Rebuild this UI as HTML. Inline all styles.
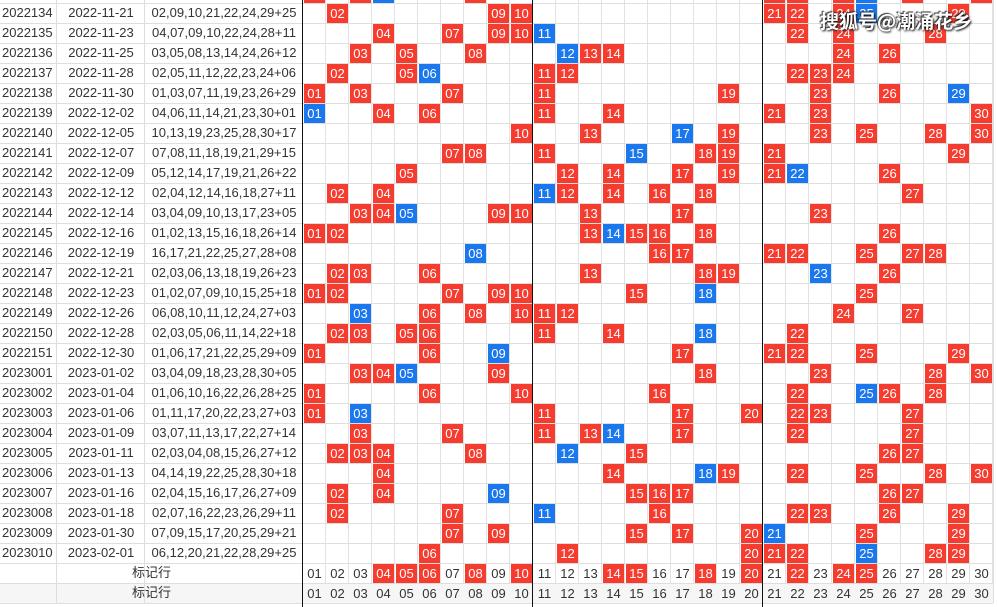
<!DOCTYPE html>
<html><head><meta charset="utf-8"><style>
html,body{margin:0;padding:0;width:997px;height:607px;overflow:hidden;background:#fff;font-family:"Liberation Sans","Noto Sans CJK SC",sans-serif;}
#w{position:relative;width:997px;height:607px;overflow:hidden;}
.bg{position:absolute;left:303px;top:0;width:690px;height:603px;background-image:repeating-linear-gradient(to right,transparent 0,transparent 22px,#e2e2e2 22px,#e2e2e2 23px);}
.hl{position:absolute;left:0;width:993px;height:1px;background:#dedede;}
.vl{position:absolute;top:0;width:1px;height:603px;background:#dedede;}
.bk{position:absolute;top:0;width:1px;height:607px;background:#111;}
.r{position:absolute;left:0;width:993px;height:20px;font-size:13px;color:#333;}
.r span{position:absolute;top:2px;line-height:16px;}
.id{left:2px;}
.dt{left:57px;width:88px;text-align:center;}
.nm{left:145px;width:158px;text-align:center;}
.r i{position:absolute;top:1px;width:21px;height:19px;line-height:19px;text-align:center;font-style:normal;color:#fff;background:#f63b2f;font-size:13px;}
.r i.b{background:#1b77ee;}
.r u{position:absolute;top:1px;width:21px;height:19px;line-height:19px;text-align:center;text-decoration:none;color:#333;font-size:13px;}
.c1{left:304px}.c2{left:327px}.c3{left:350px}.c4{left:373px}.c5{left:396px}.c6{left:419px}.c7{left:442px}.c8{left:465px}.c9{left:488px}.c10{left:511px}.c11{left:534px}.c12{left:557px}.c13{left:580px}.c14{left:603px}.c15{left:626px}.c16{left:649px}.c17{left:672px}.c18{left:695px}.c19{left:718px}.c20{left:741px}.c21{left:764px}.c22{left:787px}.c23{left:810px}.c24{left:833px}.c25{left:856px}.c26{left:879px}.c27{left:902px}.c28{left:925px}.c29{left:948px}.c30{left:971px}
.lab{left:0;width:303px;text-align:center;}
.wm{position:absolute;left:820px;top:7px;font-size:19px;font-weight:bold;color:#fff;text-shadow:1px 1px 2px #000,-1px -1px 1px #333;letter-spacing:0px;font-family:"Noto Sans CJK SC","Liberation Sans",sans-serif;}
</style></head><body><div id="w">
<div class="bg"></div>
<div class="r" style="top:583px;background:#f6f6f6"></div>
<div class="hl" style="top:3px"></div><div class="hl" style="top:23px"></div><div class="hl" style="top:43px"></div><div class="hl" style="top:63px"></div><div class="hl" style="top:83px"></div><div class="hl" style="top:103px"></div><div class="hl" style="top:123px"></div><div class="hl" style="top:143px"></div><div class="hl" style="top:163px"></div><div class="hl" style="top:183px"></div><div class="hl" style="top:203px"></div><div class="hl" style="top:223px"></div><div class="hl" style="top:243px"></div><div class="hl" style="top:263px"></div><div class="hl" style="top:283px"></div><div class="hl" style="top:303px"></div><div class="hl" style="top:323px"></div><div class="hl" style="top:343px"></div><div class="hl" style="top:363px"></div><div class="hl" style="top:383px"></div><div class="hl" style="top:403px"></div><div class="hl" style="top:423px"></div><div class="hl" style="top:443px"></div><div class="hl" style="top:463px"></div><div class="hl" style="top:483px"></div><div class="hl" style="top:503px"></div><div class="hl" style="top:523px"></div><div class="hl" style="top:543px"></div><div class="hl" style="top:563px"></div><div class="hl" style="top:583px"></div><div class="hl" style="top:603px"></div>
<div class="vl" style="left:56px"></div><div class="vl" style="left:144px"></div><div class="vl" style="left:993px"></div>
<div class="bk" style="left:302px"></div><div class="bk" style="left:532px"></div><div class="bk" style="left:762px"></div>

<div class="r" style="top:-17px"><i class="c1">01</i><i class="c3">03</i><i class="c4 b">04</i><i class="c8">08</i><i class="c21">21</i><i class="c22">22</i><i class="c24">24</i><i class="c25 b">25</i><i class="c27">27</i><i class="c30">30</i></div>

<div class="r" style="top:3px"><span class="id">2022134</span><span class="dt">2022-11-21</span><span class="nm">02,09,10,21,22,24,29+25</span><i class="c2">02</i><i class="c9">09</i><i class="c10">10</i><i class="c21">21</i><i class="c22">22</i><i class="c24">24</i><i class="c29">29</i><i class="c25 b">25</i></div>
<div class="r" style="top:23px"><span class="id">2022135</span><span class="dt">2022-11-23</span><span class="nm">04,07,09,10,22,24,28+11</span><i class="c4">04</i><i class="c7">07</i><i class="c9">09</i><i class="c10">10</i><i class="c22">22</i><i class="c24">24</i><i class="c28">28</i><i class="c11 b">11</i></div>
<div class="r" style="top:43px"><span class="id">2022136</span><span class="dt">2022-11-25</span><span class="nm">03,05,08,13,14,24,26+12</span><i class="c3">03</i><i class="c5">05</i><i class="c8">08</i><i class="c13">13</i><i class="c14">14</i><i class="c24">24</i><i class="c26">26</i><i class="c12 b">12</i></div>
<div class="r" style="top:63px"><span class="id">2022137</span><span class="dt">2022-11-28</span><span class="nm">02,05,11,12,22,23,24+06</span><i class="c2">02</i><i class="c5">05</i><i class="c11">11</i><i class="c12">12</i><i class="c22">22</i><i class="c23">23</i><i class="c24">24</i><i class="c6 b">06</i></div>
<div class="r" style="top:83px"><span class="id">2022138</span><span class="dt">2022-11-30</span><span class="nm">01,03,07,11,19,23,26+29</span><i class="c1">01</i><i class="c3">03</i><i class="c7">07</i><i class="c11">11</i><i class="c19">19</i><i class="c23">23</i><i class="c26">26</i><i class="c29 b">29</i></div>
<div class="r" style="top:103px"><span class="id">2022139</span><span class="dt">2022-12-02</span><span class="nm">04,06,11,14,21,23,30+01</span><i class="c4">04</i><i class="c6">06</i><i class="c11">11</i><i class="c14">14</i><i class="c21">21</i><i class="c23">23</i><i class="c30">30</i><i class="c1 b">01</i></div>
<div class="r" style="top:123px"><span class="id">2022140</span><span class="dt">2022-12-05</span><span class="nm">10,13,19,23,25,28,30+17</span><i class="c10">10</i><i class="c13">13</i><i class="c19">19</i><i class="c23">23</i><i class="c25">25</i><i class="c28">28</i><i class="c30">30</i><i class="c17 b">17</i></div>
<div class="r" style="top:143px"><span class="id">2022141</span><span class="dt">2022-12-07</span><span class="nm">07,08,11,18,19,21,29+15</span><i class="c7">07</i><i class="c8">08</i><i class="c11">11</i><i class="c18">18</i><i class="c19">19</i><i class="c21">21</i><i class="c29">29</i><i class="c15 b">15</i></div>
<div class="r" style="top:163px"><span class="id">2022142</span><span class="dt">2022-12-09</span><span class="nm">05,12,14,17,19,21,26+22</span><i class="c5">05</i><i class="c12">12</i><i class="c14">14</i><i class="c17">17</i><i class="c19">19</i><i class="c21">21</i><i class="c26">26</i><i class="c22 b">22</i></div>
<div class="r" style="top:183px"><span class="id">2022143</span><span class="dt">2022-12-12</span><span class="nm">02,04,12,14,16,18,27+11</span><i class="c2">02</i><i class="c4">04</i><i class="c12">12</i><i class="c14">14</i><i class="c16">16</i><i class="c18">18</i><i class="c27">27</i><i class="c11 b">11</i></div>
<div class="r" style="top:203px"><span class="id">2022144</span><span class="dt">2022-12-14</span><span class="nm">03,04,09,10,13,17,23+05</span><i class="c3">03</i><i class="c4">04</i><i class="c9">09</i><i class="c10">10</i><i class="c13">13</i><i class="c17">17</i><i class="c23">23</i><i class="c5 b">05</i></div>
<div class="r" style="top:223px"><span class="id">2022145</span><span class="dt">2022-12-16</span><span class="nm">01,02,13,15,16,18,26+14</span><i class="c1">01</i><i class="c2">02</i><i class="c13">13</i><i class="c15">15</i><i class="c16">16</i><i class="c18">18</i><i class="c26">26</i><i class="c14 b">14</i></div>
<div class="r" style="top:243px"><span class="id">2022146</span><span class="dt">2022-12-19</span><span class="nm">16,17,21,22,25,27,28+08</span><i class="c16">16</i><i class="c17">17</i><i class="c21">21</i><i class="c22">22</i><i class="c25">25</i><i class="c27">27</i><i class="c28">28</i><i class="c8 b">08</i></div>
<div class="r" style="top:263px"><span class="id">2022147</span><span class="dt">2022-12-21</span><span class="nm">02,03,06,13,18,19,26+23</span><i class="c2">02</i><i class="c3">03</i><i class="c6">06</i><i class="c13">13</i><i class="c18">18</i><i class="c19">19</i><i class="c26">26</i><i class="c23 b">23</i></div>
<div class="r" style="top:283px"><span class="id">2022148</span><span class="dt">2022-12-23</span><span class="nm">01,02,07,09,10,15,25+18</span><i class="c1">01</i><i class="c2">02</i><i class="c7">07</i><i class="c9">09</i><i class="c10">10</i><i class="c15">15</i><i class="c25">25</i><i class="c18 b">18</i></div>
<div class="r" style="top:303px"><span class="id">2022149</span><span class="dt">2022-12-26</span><span class="nm">06,08,10,11,12,24,27+03</span><i class="c6">06</i><i class="c8">08</i><i class="c10">10</i><i class="c11">11</i><i class="c12">12</i><i class="c24">24</i><i class="c27">27</i><i class="c3 b">03</i></div>
<div class="r" style="top:323px"><span class="id">2022150</span><span class="dt">2022-12-28</span><span class="nm">02,03,05,06,11,14,22+18</span><i class="c2">02</i><i class="c3">03</i><i class="c5">05</i><i class="c6">06</i><i class="c11">11</i><i class="c14">14</i><i class="c22">22</i><i class="c18 b">18</i></div>
<div class="r" style="top:343px"><span class="id">2022151</span><span class="dt">2022-12-30</span><span class="nm">01,06,17,21,22,25,29+09</span><i class="c1">01</i><i class="c6">06</i><i class="c17">17</i><i class="c21">21</i><i class="c22">22</i><i class="c25">25</i><i class="c29">29</i><i class="c9 b">09</i></div>
<div class="r" style="top:363px"><span class="id">2023001</span><span class="dt">2023-01-02</span><span class="nm">03,04,09,18,23,28,30+05</span><i class="c3">03</i><i class="c4">04</i><i class="c9">09</i><i class="c18">18</i><i class="c23">23</i><i class="c28">28</i><i class="c30">30</i><i class="c5 b">05</i></div>
<div class="r" style="top:383px"><span class="id">2023002</span><span class="dt">2023-01-04</span><span class="nm">01,06,10,16,22,26,28+25</span><i class="c1">01</i><i class="c6">06</i><i class="c10">10</i><i class="c16">16</i><i class="c22">22</i><i class="c26">26</i><i class="c28">28</i><i class="c25 b">25</i></div>
<div class="r" style="top:403px"><span class="id">2023003</span><span class="dt">2023-01-06</span><span class="nm">01,11,17,20,22,23,27+03</span><i class="c1">01</i><i class="c11">11</i><i class="c17">17</i><i class="c20">20</i><i class="c22">22</i><i class="c23">23</i><i class="c27">27</i><i class="c3 b">03</i></div>
<div class="r" style="top:423px"><span class="id">2023004</span><span class="dt">2023-01-09</span><span class="nm">03,07,11,13,17,22,27+14</span><i class="c3">03</i><i class="c7">07</i><i class="c11">11</i><i class="c13">13</i><i class="c17">17</i><i class="c22">22</i><i class="c27">27</i><i class="c14 b">14</i></div>
<div class="r" style="top:443px"><span class="id">2023005</span><span class="dt">2023-01-11</span><span class="nm">02,03,04,08,15,26,27+12</span><i class="c2">02</i><i class="c3">03</i><i class="c4">04</i><i class="c8">08</i><i class="c15">15</i><i class="c26">26</i><i class="c27">27</i><i class="c12 b">12</i></div>
<div class="r" style="top:463px"><span class="id">2023006</span><span class="dt">2023-01-13</span><span class="nm">04,14,19,22,25,28,30+18</span><i class="c4">04</i><i class="c14">14</i><i class="c19">19</i><i class="c22">22</i><i class="c25">25</i><i class="c28">28</i><i class="c30">30</i><i class="c18 b">18</i></div>
<div class="r" style="top:483px"><span class="id">2023007</span><span class="dt">2023-01-16</span><span class="nm">02,04,15,16,17,26,27+09</span><i class="c2">02</i><i class="c4">04</i><i class="c15">15</i><i class="c16">16</i><i class="c17">17</i><i class="c26">26</i><i class="c27">27</i><i class="c9 b">09</i></div>
<div class="r" style="top:503px"><span class="id">2023008</span><span class="dt">2023-01-18</span><span class="nm">02,07,16,22,23,26,29+11</span><i class="c2">02</i><i class="c7">07</i><i class="c16">16</i><i class="c22">22</i><i class="c23">23</i><i class="c26">26</i><i class="c29">29</i><i class="c11 b">11</i></div>
<div class="r" style="top:523px"><span class="id">2023009</span><span class="dt">2023-01-30</span><span class="nm">07,09,15,17,20,25,29+21</span><i class="c7">07</i><i class="c9">09</i><i class="c15">15</i><i class="c17">17</i><i class="c20">20</i><i class="c25">25</i><i class="c29">29</i><i class="c21 b">21</i></div>
<div class="r" style="top:543px"><span class="id">2023010</span><span class="dt">2023-02-01</span><span class="nm">06,12,20,21,22,28,29+25</span><i class="c6">06</i><i class="c12">12</i><i class="c20">20</i><i class="c21">21</i><i class="c22">22</i><i class="c28">28</i><i class="c29">29</i><i class="c25 b">25</i></div>

<div class="r" style="top:563px"><span class="lab">标记行</span><u class="c1">01</u><u class="c2">02</u><u class="c3">03</u><i class="c4">04</i><i class="c5">05</i><i class="c6">06</i><u class="c7">07</u><i class="c8">08</i><u class="c9">09</u><i class="c10">10</i><u class="c11">11</u><u class="c12">12</u><u class="c13">13</u><i class="c14">14</i><i class="c15">15</i><u class="c16">16</u><u class="c17">17</u><i class="c18">18</i><u class="c19">19</u><i class="c20">20</i><u class="c21">21</u><i class="c22">22</i><u class="c23">23</u><i class="c24">24</i><i class="c25">25</i><u class="c26">26</u><u class="c27">27</u><u class="c28">28</u><u class="c29">29</u><u class="c30">30</u></div>
<div class="r" style="top:583px"><span class="lab">标记行</span><u class="c1">01</u><u class="c2">02</u><u class="c3">03</u><u class="c4">04</u><u class="c5">05</u><u class="c6">06</u><u class="c7">07</u><u class="c8">08</u><u class="c9">09</u><u class="c10">10</u><u class="c11">11</u><u class="c12">12</u><u class="c13">13</u><u class="c14">14</u><u class="c15">15</u><u class="c16">16</u><u class="c17">17</u><u class="c18">18</u><u class="c19">19</u><u class="c20">20</u><u class="c21">21</u><u class="c22">22</u><u class="c23">23</u><u class="c24">24</u><u class="c25">25</u><u class="c26">26</u><u class="c27">27</u><u class="c28">28</u><u class="c29">29</u><u class="c30">30</u></div>

<div class="wm">搜狐号@潮涌花乡</div>
</div></body></html>
